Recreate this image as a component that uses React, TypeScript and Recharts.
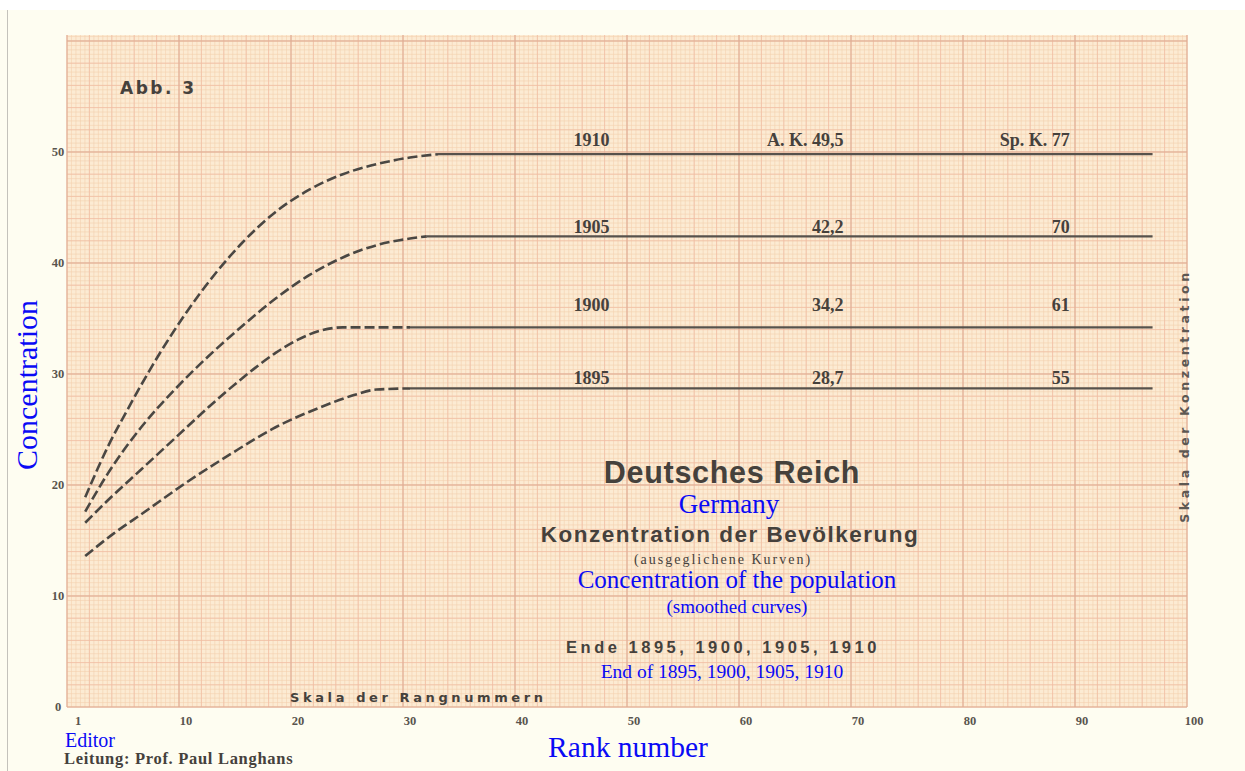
import { LineChart, Line, XAxis, YAxis, CartesianGrid, ReferenceDot } from 'recharts'

// chart frame (the sheet of graph paper is the plot area)
const W = 1245
const H = 771
const PLOT_LEFT = 67
const PLOT_TOP = 35
const PLOT_RIGHT = 1187
const PLOT_BOTTOM = 707

const X_TICKS = [1, 10, 20, 30, 40, 50, 60, 70, 80, 90, 100]
const Y_TICKS = [0, 10, 20, 30, 40, 50]

const YEARS = ['1910', '1905', '1900', '1895']
const AK_LABELS = ['A. K. 49,5', '42,2', '34,2', '28,7']
const SPK_LABELS = ['Sp. K. 77', '70', '61', '55']
const LABEL_LEVEL = [51.1, 43.2, 36.2, 29.6]

// dashed (smoothed) rising part of each curve
const RANKS_1910 = [1, 3, 5, 7.5, 10, 12.5, 15, 18, 21, 24, 27, 30, 32.5]
const CURVE_1910 = [18.9, 23.4, 27.2, 31.6, 35.5, 38.9, 41.8, 44.6, 46.6, 48.0, 48.9, 49.5, 49.8]
const RANKS_1905 = [1, 3, 6, 9, 12, 15, 18, 21, 24, 27, 30, 31.5]
const CURVE_1905 = [17.6, 21.0, 25.2, 28.6, 31.6, 34.3, 36.8, 38.9, 40.5, 41.6, 42.2, 42.4]
const RANKS_1900 = [1, 3, 6, 9, 12, 15, 18, 20, 22, 24, 30]
const CURVE_1900 = [16.6, 18.6, 21.4, 24.2, 27.0, 29.6, 31.9, 33.1, 33.9, 34.2, 34.2]
const RANKS_1895 = [1, 3.5, 6.2, 10, 14, 18, 22, 25, 27, 30]
const CURVE_1895 = [13.6, 15.6, 17.5, 20.2, 22.8, 25.2, 27.0, 28.1, 28.6, 28.7]

// solid flat part
const LEVELS = [49.8, 42.4, 34.2, 28.7]
const FLAT_FROM = [32.5, 31.5, 30, 30]
const FLAT_TO = 96.3

const CURVES = [
  [RANKS_1910, CURVE_1910],
  [RANKS_1905, CURVE_1905],
  [RANKS_1900, CURVE_1900],
  [RANKS_1895, CURVE_1895],
].map(([r, v]) => r.map((rank, i) => ({ rank, value: v[i] })))

const FLATS = LEVELS.map((lvl, i) => [
  { rank: FLAT_FROM[i], value: lvl },
  { rank: FLAT_TO, value: lvl },
])

const INK = '#45413c'
const BLUE = '#0a0af5'
const SERIF = '"Liberation Serif", "Times New Roman", serif'
const SANS = '"Liberation Sans", Arial, sans-serif'
const WIDE = '"DejaVu Sans", Verdana, sans-serif'

function steps(from: number, to: number, step: number) {
  const out: number[] = []
  const n = Math.round(Math.abs(to - from) / step)
  for (let i = 0; i <= n; i++) out.push(from + Math.sign(to - from) * i * step)
  return out
}

const FX = (PLOT_RIGHT - PLOT_LEFT) / 250
const FY = (PLOT_BOTTOM - PLOT_TOP) / 151.35

// eslint-disable-next-line @typescript-eslint/no-explicit-any
function XTick({ x, y, payload }: any) {
  return (
    <text x={x + (payload.value === 1 ? -7 : 0)} y={y + 14} textAnchor="middle" dominantBaseline="central"
      fontFamily={SERIF} fontWeight="bold" fontSize={12.5} fill="#59544e">{payload.value}</text>
  )
}

// eslint-disable-next-line @typescript-eslint/no-explicit-any
function YTick({ x, y, payload }: any) {
  return (
    <text x={x - 9} y={y} textAnchor="middle" dominantBaseline="central"
      fontFamily={SERIF} fontWeight="bold" fontSize={12.5} fill="#59544e">{payload.value}</text>
  )
}

function textShape(label: string, anchor: 'start' | 'end') {
  // eslint-disable-next-line @typescript-eslint/no-explicit-any
  return (p: any) => (
    <text x={p.cx} y={p.cy} textAnchor={anchor} dominantBaseline="central"
      fontFamily={SERIF} fontWeight="bold" fontSize={18} fill={INK}>{label}</text>
  )
}

export default function App() {
  return (
    <div style={{ position: 'absolute', left: 0, top: 0, width: W, height: H, background: '#fefdf1', overflow: 'hidden' }}>
      <div style={{ position: 'absolute', left: 0, top: 0, width: W, height: 10, background: '#ffffff' }} />
      <div style={{ position: 'absolute', left: 7, top: 10, width: 1, height: H - 10, background: '#c4c2bb' }} />
      <LineChart width={W} height={H} margin={{ top: PLOT_TOP, right: W - PLOT_RIGHT, left: 0, bottom: 0 }}>
        <CartesianGrid fill="#fcebd3" fillOpacity={1} stroke="#f3d0ae" strokeWidth={0.6}
          verticalPoints={steps(PLOT_LEFT, PLOT_RIGHT, FX)} horizontalPoints={steps(PLOT_BOTTOM, PLOT_TOP, FY)} />
        <CartesianGrid fill="none" stroke="#f1bba3" strokeWidth={0.7}
          verticalPoints={steps(PLOT_LEFT, PLOT_RIGHT, FX * 5)} horizontalPoints={steps(PLOT_BOTTOM, PLOT_TOP, FY * 5)} />
        <CartesianGrid fill="none" stroke="#dcab94" strokeWidth={0.9}
          verticalPoints={steps(PLOT_LEFT, PLOT_RIGHT, FX * 25)} horizontalPoints={steps(PLOT_BOTTOM, PLOT_TOP, FY * 25)} />
        <XAxis type="number" dataKey="rank" domain={[-0.625, 99.375]} ticks={X_TICKS} interval={0}
          height={H - PLOT_BOTTOM} axisLine={false} tickLine={false} tickSize={0} tickMargin={0} tick={<XTick />} />
        <YAxis type="number" domain={[0, 60.54]} ticks={Y_TICKS} interval={0} width={PLOT_LEFT}
          axisLine={false} tickLine={false} tickSize={0} tickMargin={0} tick={<YTick />} />
        {CURVES.map((d, i) => (
          <Line key={'c' + i} data={d} dataKey="value" type="monotone" stroke="#4a4743" strokeWidth={2.6}
            strokeDasharray="10 4" dot={false} activeDot={false} isAnimationActive={false} />
        ))}
        {FLATS.map((d, i) => (
          <Line key={'f' + i} data={d} dataKey="value" type="linear" stroke="#57524c" strokeWidth={2.2}
            dot={false} activeDot={false} isAnimationActive={false} />
        ))}
        {YEARS.map((yr, i) => (
          <ReferenceDot key={'y' + i} x={44.6} y={LABEL_LEVEL[i]} r={1} shape={textShape(yr, 'start')} />
        ))}
        {AK_LABELS.map((t, i) => (
          <ReferenceDot key={'a' + i} x={68.7} y={LABEL_LEVEL[i]} r={1} shape={textShape(t, 'end')} />
        ))}
        {SPK_LABELS.map((t, i) => (
          <ReferenceDot key={'s' + i} x={88.9} y={LABEL_LEVEL[i]} r={1} shape={textShape(t, 'end')} />
        ))}
      </LineChart>
      <svg width={W} height={H} style={{ position: 'absolute', left: 0, top: 0, pointerEvents: 'none' }}>
        <text x={120} y={94} fontFamily={WIDE} fontWeight="bold" fontSize={17} letterSpacing={2.5} fill={INK}>Abb. 3</text>

        <text x={732} y={483} textAnchor="middle" fontFamily={SANS} fontWeight="bold" fontSize={30.5} letterSpacing={0.7} fill={INK}>Deutsches Reich</text>
        <text x={729} y={513} textAnchor="middle" fontFamily={SERIF} fontSize={27} fill={BLUE}>Germany</text>
        <text x={730} y={542} textAnchor="middle" fontFamily={SANS} fontWeight="bold" fontSize={22.5} letterSpacing={1.5} fill={INK}>Konzentration der Bevölkerung</text>
        <text x={723} y={564} textAnchor="middle" fontFamily={SERIF} fontSize={14} letterSpacing={2} fill={INK}>(ausgeglichene Kurven)</text>
        <text x={737} y={588} textAnchor="middle" fontFamily={SERIF} fontSize={25} fill={BLUE}>Concentration of the population</text>
        <text x={737} y={613} textAnchor="middle" fontFamily={SERIF} fontSize={19} fill={BLUE}>(smoothed curves)</text>
        <text x={723} y={653} textAnchor="middle" fontFamily={SANS} fontWeight="bold" fontSize={16.5} letterSpacing={3.5} fill={INK}>Ende 1895, 1900, 1905, 1910</text>
        <text x={722} y={678} textAnchor="middle" fontFamily={SERIF} fontSize={19.5} fill={BLUE}>End of 1895, 1900, 1905, 1910</text>

        <text x={290} y={702} fontFamily={WIDE} fontWeight="bold" fontSize={13} letterSpacing={3.6} fill={INK}>Skala der Rangnummern</text>
        <text transform="translate(1184 396) rotate(-90)" textAnchor="middle" dominantBaseline="central"
          fontFamily={WIDE} fontWeight="bold" fontSize={12.5} letterSpacing={3.6} fill="#5d5852">Skala der Konzentration</text>

        <text transform="translate(26 385) rotate(-90)" textAnchor="middle" dominantBaseline="central"
          fontFamily={SERIF} fontSize={30} fill={BLUE}>Concentration</text>
        <text x={628} y={757} textAnchor="middle" fontFamily={SERIF} fontSize={29.5} fill={BLUE}>Rank number</text>
        <text x={65} y={747} fontFamily={SERIF} fontSize={20} fill={BLUE}>Editor</text>
        <text x={64} y={764} fontFamily={SERIF} fontWeight="bold" fontSize={16.5} letterSpacing={0.7} fill={INK}>Leitung: Prof. Paul Langhans</text>
      </svg>
    </div>
  )
}
